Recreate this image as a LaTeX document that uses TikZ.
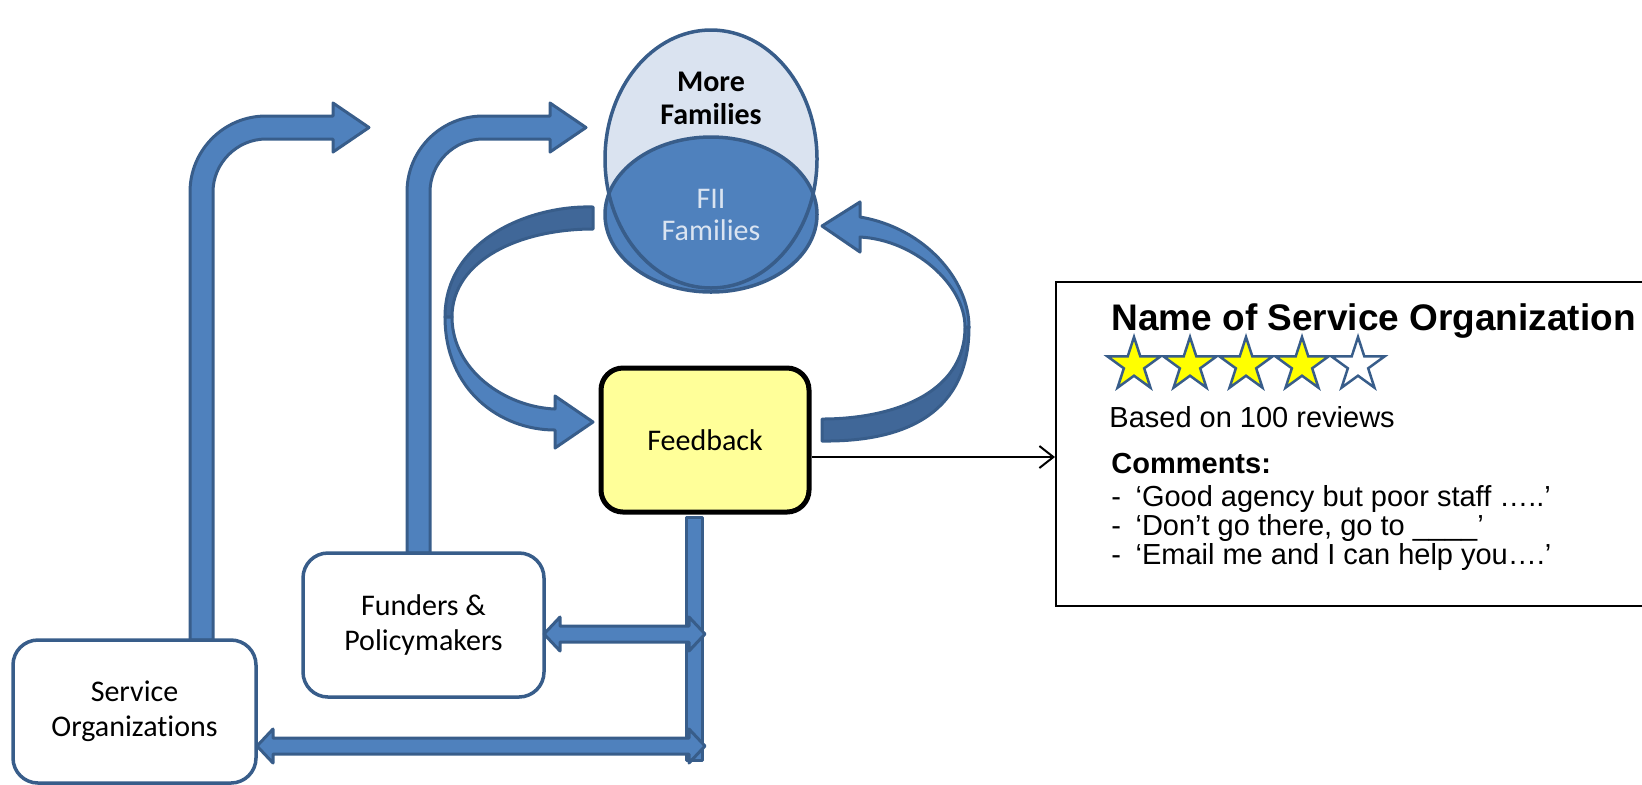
\documentclass[tikz,border=0pt]{standalone}
\usepackage{fontspec}
\setmainfont{Carlito}[Ligatures={NoCommon}]
\newfontfamily\arialfont{Liberation Sans}
\usetikzlibrary{shapes.geometric,arrows.meta}
\definecolor{edgeblue}{RGB}{56,93,138}
\definecolor{fiiblue}{RGB}{79,129,189}
\definecolor{bandblue}{RGB}{64,103,152}
\definecolor{morefill}{RGB}{218,227,240}
\definecolor{fiitext}{RGB}{218,228,241}
\definecolor{notepad}{RGB}{255,255,153}
\definecolor{starfill}{RGB}{255,255,0}

\begin{document}
\begin{tikzpicture}[x=0.5pt,y=-0.5pt,
    bodytext/.style={font=\fontsize{15}{17.5}\selectfont, align=center},
    roundbox/.style={draw=edgeblue, line width=1.75pt, rounded corners=12.5pt, fill=white, minimum width=120.5pt, minimum height=72pt, bodytext},
    blockarrow/.style={fill=fiiblue, draw=edgeblue, line width=1.5pt, line join=round},
    bandback/.style={blockarrow, fill=bandblue},
    ratestar/.style={star, star points=5, star point ratio=2.618, minimum size=28pt, inner sep=0pt, draw=edgeblue, line width=1.25pt},
    reviewtext/.style={anchor=base west, inner sep=0pt, font=\arialfont\fontsize{14.5}{17}\selectfont}]
        \clip (0,0) rectangle (1642,784);

        % review card
        \node[draw, line width=1pt, anchor=north west, minimum width=305pt, minimum height=162pt, inner sep=0pt] (rev) at (1055,281) {};
        \node[reviewtext] (title) at (1111,330) {\bfseries\fontsize{18.5}{22}\selectfont Name of Service Organization};
        \foreach \i/\c in {0/starfill,1/starfill,2/starfill,3/starfill,4/white}
            \node[ratestar, fill=\c] (star\i) at (1134+56*\i,365) {};
        \node[reviewtext] (based) at (1109,427) {Based on 100 reviews};
        \node[reviewtext] (comm) at (1111,473) {\bfseries Comments:};
        \node[reviewtext] (c1) at (1111,506) {-\hspace{0.5em}‘Good agency but poor staff …..’};
        \node[reviewtext] (c2) at (1111,535) {-\hspace{0.5em}‘Don’t go there, go to \_\_\_\_’};
        \node[reviewtext] (c3) at (1111,564) {-\hspace{0.5em}‘Email me and I can help you….’};

        % bent arrows up from the boxes
        \foreach \x/\b in {0/640,217/553}
            \filldraw[blockarrow] (190+\x,\b) -- (190+\x,192) .. controls (190+\x,150) and (224+\x,116) .. (266+\x,116) -- (333+\x,116) -- (333+\x,103) -- (369+\x,127.5) -- (333+\x,152) -- (333+\x,139) -- (266+\x,139) .. controls (237+\x,139) and (213+\x,163) .. (213+\x,192) -- (213+\x,\b) -- cycle;

        % curved arrows round the loop
        \filldraw[bandback] (593,207) .. controls (530,205) and (445,240) .. (445,317) -- (452,317) .. controls (452,260) and (520,229) .. (593,229) -- cycle;
        \filldraw[blockarrow] (445,317) .. controls (445,390) and (500,430) .. (555,430) -- (555,448) -- (593,422) -- (555,396) -- (555,409) .. controls (505,407) and (452,370) .. (452,317) -- cycle;
        \filldraw[bandback] (822,441) .. controls (910,442) and (969,410) .. (969,327) -- (965,327) .. controls (965,395) and (890,419) .. (822,419) -- cycle;
        \filldraw[blockarrow] (969,327) .. controls (969,280) and (925,228) .. (860,217) -- (860,202) -- (822,226) -- (860,252) -- (860,237) .. controls (915,240) and (965,285) .. (965,327) -- cycle;

        % families
        \node[ellipse, fill=morefill, minimum width=106pt, minimum height=129pt, inner sep=0pt] (more) at (711,159) {};
        \node[ellipse, fill=fiiblue, draw=edgeblue, line width=1.75pt, minimum width=106pt, minimum height=77.5pt, text=fiitext, bodytext, font=\fontsize{15}{16}\selectfont] (fii) at (711,214.5) {FII\\Families};
        \draw[edgeblue, line width=1.75pt] (more.center) ellipse [x radius=53pt, y radius=64.5pt];
        \node[font=\bfseries\fontsize{15}{16.5}\selectfont, align=center] (moretext) at (711,98) {More\\Families};

        % boxes
        \node[roundbox, minimum width=121.5pt, minimum height=71.5pt] (svc) at (134.5,711.5) {Service\\Organizations};
        \node[roundbox] (fund) at (423.5,625) {Funders \&\\Policymakers};
        \node[draw=black, line width=2.5pt, rounded corners=11pt, fill=notepad, minimum width=104pt, minimum height=72pt, bodytext] (fb) at (705,440) {Feedback};

        % feedback back to the boxes
        \filldraw[blockarrow] (686,517) rectangle (702,760);
        \filldraw[blockarrow] (544,634) -- (560,617) -- (560,626) -- (689,626) -- (689,617) -- (705,634) -- (689,651) -- (689,642) -- (560,642) -- (560,651) -- cycle;
        \filldraw[blockarrow] (257,746) -- (273,729) -- (273,738) -- (689,738) -- (689,729) -- (705,746) -- (689,763) -- (689,754) -- (273,754) -- (273,763) -- cycle;

        \draw[line width=1pt, -{Straight Barb[length=7pt,width=11pt]}] ([yshift=-8.5pt]fb.east) -- ([yshift=-8.5pt]fb.east -| rev.west);
\end{tikzpicture}
\end{document}
